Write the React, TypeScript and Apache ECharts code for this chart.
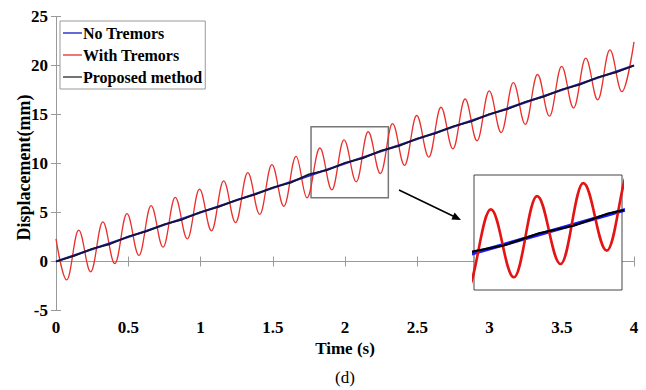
import React, { useEffect, useRef } from "react";
import * as echarts from "echarts";

// Red curve ("With Tremors"): start point, then alternating troughs / peaks
const tremorTimes = [
  0, 0.074, 0.157, 0.24, 0.324, 0.407, 0.491, 0.574, 0.658, 0.741, 0.825, 0.909, 0.993,
  1.076, 1.16, 1.243, 1.327, 1.41, 1.494, 1.577, 1.661, 1.737, 1.826, 1.909, 1.993,
  2.078, 2.16, 2.245, 2.329, 2.412, 2.496, 2.58, 2.664, 2.747, 2.831, 2.914, 2.998,
  3.081, 3.165, 3.248, 3.332, 3.415, 3.499, 3.582, 3.666, 3.749, 3.833, 3.916, 4.0,
];
const tremorValues = [
  2.3, -1.88, 3.21, -1.05, 4.04, -0.21, 4.88, 0.62, 5.71, 1.46, 6.55, 2.3, 7.39,
  3.13, 8.22, 3.97, 9.06, 4.8, 9.89, 5.64, 10.73, 6.5, 11.58, 7.3, 12.42,
  8.14, 13.24, 8.98, 14.07, 9.81, 14.9, 10.65, 15.74, 11.49, 16.58, 12.32, 17.41,
  13.16, 18.25, 13.99, 19.08, 14.83, 19.92, 15.66, 20.75, 16.5, 21.59, 17.33, 22.42,
];

// Blue curve ("No Tremors")
const noTremorTimes = [0, 0.5, 1, 1.5, 2, 2.5, 3, 3.5, 4];
const noTremorValues = [0, 2.5, 5, 7.5, 10, 12.5, 15, 17.5, 20];

// Black curve ("Proposed method")
const proposedTimes = [
  0, 0.125, 0.25, 0.375, 0.5, 0.625, 0.75, 0.875, 1, 1.125, 1.25, 1.375, 1.5, 1.625, 1.75,
  1.875, 2, 2.125, 2.25, 2.375, 2.5, 2.625, 2.75, 2.875, 3, 3.125, 3.25, 3.375, 3.5, 3.625,
  3.75, 3.875, 4,
];
const proposedValues = [
  0, 0.57, 1.3, 1.78, 2.55, 3.07, 3.8, 4.28, 5.05, 5.57, 6.28, 6.82, 7.55, 8.05, 8.9,
  9.32, 10.08, 10.55, 11.32, 11.8, 12.55, 13.07, 13.8, 14.3, 15.05, 15.55, 16.3, 16.82, 17.55,
  18.05, 18.8, 19.3, 20.0,
];

const xTicks = { min: 0, max: 4, interval: 0.5 };
const yTicks = { min: -5, max: 25, interval: 5 };
const zoomX = [1.765, 2.3];
const zoomY = [6.5, 13.75];

const names = ["No Tremors", "With Tremors", "Proposed method"];

const pairs = (t: number[], v: number[]) => t.map((x, i) => [x, v[i]]);

const FONT = "'Liberation Serif', 'Times New Roman', serif";

export default function App() {
  const ref = useRef<HTMLDivElement>(null);
  useEffect(() => {
    if (!ref.current) return;
    const chart = echarts.init(ref.current, undefined, { renderer: "svg" });
    const axisGray = "#9a9a9a";
    const tickLabel = { fontFamily: FONT, fontWeight: "bold" as const, fontSize: 17, color: "#000" };
    chart.setOption({
      animation: false,
      backgroundColor: "#fff",
      textStyle: { fontFamily: FONT },
      legend: {
        data: names,
        orient: "vertical",
        left: 60,
        top: 21,
        icon: "rect",
        itemWidth: 19,
        itemHeight: 1.5,
        itemGap: 6,
        padding: [4, 3, 4, 3],
        borderColor: "#999",
        borderWidth: 1,
        backgroundColor: "#fff",
        textStyle: { fontFamily: FONT, fontWeight: "bold", fontSize: 16, color: "#000", padding: [0, 0, 0, -4] },
      },
      grid: [
        { left: 56, top: 16.5, width: 578, height: 294, show: false },
        { left: 474, top: 175, width: 148, height: 115, show: true, borderColor: "#444", borderWidth: 1, backgroundColor: "#fff", z: 5 },
      ],
      xAxis: [
        {
          type: "value", gridIndex: 0, ...xTicks,
          name: "Time (s)", nameLocation: "middle", nameGap: 29,
          nameTextStyle: { fontFamily: FONT, fontWeight: "bold", fontSize: 17, color: "#000" },
          axisLine: { lineStyle: { color: axisGray } },
          axisTick: { inside: true, length: 5, lineStyle: { color: axisGray } },
          axisLabel: { ...tickLabel, margin: 8 },
          splitLine: { show: false },
        },
        {
          type: "value", gridIndex: 0, position: "top", ...xTicks,
          axisLine: { lineStyle: { color: axisGray } },
          axisTick: { inside: true, length: 5, lineStyle: { color: axisGray } },
          axisLabel: { show: false },
          splitLine: { show: false },
        },
        {
          type: "value", gridIndex: 1, min: zoomX[0], max: zoomX[1],
          axisLine: { show: false }, axisTick: { show: false }, axisLabel: { show: false }, splitLine: { show: false },
        },
      ],
      yAxis: [
        {
          type: "value", gridIndex: 0, ...yTicks,
          name: "Displacement(mm)", nameLocation: "middle", nameGap: 23, nameMoveOverlap: false,
          nameTextStyle: { fontFamily: FONT, fontWeight: "bold", fontSize: 18, color: "#000", padding: [0, 8, 0, 0] },
          axisLine: { show: true, lineStyle: { color: axisGray } },
          axisTick: { show: true, inside: true, length: 5, lineStyle: { color: axisGray } },
          axisLabel: { ...tickLabel, margin: 8 },
          splitLine: { show: false },
        },
        {
          type: "value", gridIndex: 0, position: "right", ...yTicks,
          axisLine: { show: true, lineStyle: { color: axisGray } },
          axisTick: { show: true, inside: true, length: 5, lineStyle: { color: axisGray } },
          axisLabel: { show: false },
          splitLine: { show: false },
        },
        {
          type: "value", gridIndex: 1, min: zoomY[0], max: zoomY[1],
          axisLine: { show: false }, axisTick: { show: false }, axisLabel: { show: false }, splitLine: { show: false },
        },
      ],
      series: [
        {
          name: names[0], type: "line", xAxisIndex: 0, yAxisIndex: 0, symbol: "none",
          data: pairs(noTremorTimes, noTremorValues),
          lineStyle: { color: "#2424c8", width: 2.2 }, itemStyle: { color: "#3434d0" }, z: 2,
        },
        {
          name: names[1], type: "line", xAxisIndex: 0, yAxisIndex: 0, symbol: "none",
          smooth: 0.38, smoothMonotone: "x",
          data: pairs(tremorTimes, tremorValues),
          lineStyle: { color: "#e8302c", width: 1.3 }, itemStyle: { color: "#e84a48" }, z: 1,
          markArea: {
            silent: true,
            itemStyle: { color: "rgba(0,0,0,0)", borderColor: "#777", borderWidth: 1.5 },
            data: [[{ coord: [zoomX[0], zoomY[1]] }, { coord: [zoomX[1], zoomY[0]] }]],
          },
        },
        {
          name: names[2], type: "line", xAxisIndex: 0, yAxisIndex: 0, symbol: "none",
          data: pairs(proposedTimes, proposedValues),
          lineStyle: { color: "#14142e", width: 1.7 }, itemStyle: { color: "#444" }, z: 3,
        },
        {
          name: names[0], type: "line", xAxisIndex: 2, yAxisIndex: 2, symbol: "none",
          data: pairs(noTremorTimes, noTremorValues),
          lineStyle: { color: "#1a1aff", width: 3.6 }, z: 6,
        },
        {
          name: names[1], type: "line", xAxisIndex: 2, yAxisIndex: 2, symbol: "none",
          smooth: 0.38, smoothMonotone: "x",
          data: pairs(tremorTimes, tremorValues),
          lineStyle: { color: "#e51414", width: 2.6 }, z: 6,
        },
        {
          name: names[2], type: "line", xAxisIndex: 2, yAxisIndex: 2, symbol: "none",
          data: pairs(proposedTimes, proposedValues),
          lineStyle: { color: "#000", width: 2.2 }, z: 7,
        },
      ],
      graphic: [
        { type: "line", shape: { x1: 399, y1: 190, x2: 454, y2: 216.5 }, style: { stroke: "#000", lineWidth: 1.5 }, z: 10 },
        { type: "polygon", shape: { points: [[461, 220], [451.4, 219.6], [454.6, 212.6]] }, style: { fill: "#000" }, z: 10 },
        {
          type: "text", x: 345, y: 377,
          style: { text: "(d)", fontFamily: FONT, fontSize: 17, fill: "#000", align: "center", verticalAlign: "middle" },
        },
      ],
    });
    return () => chart.dispose();
  }, []);
  return <div ref={ref} style={{ position: "absolute", left: 0, top: 0, width: 646, height: 390 }} />;
}
